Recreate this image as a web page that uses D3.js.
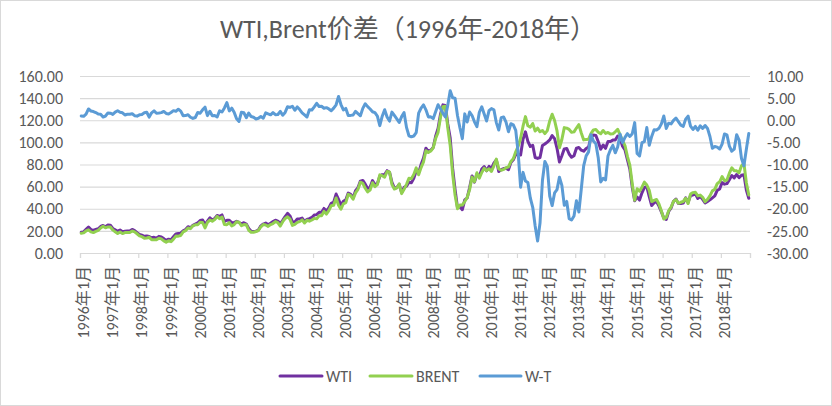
<!DOCTYPE html>
<html><head><meta charset="utf-8">
<script src="https://cdn.jsdelivr.net/npm/d3@7"></script>
<style>body{margin:0;background:#fff}svg{display:block}</style>
</head><body>
<svg id="chart" width="832" height="406"></svg>
<script>
const titleText = "WTI,Brent价差（1996年-2018年）";
const yearLabels = ["1996年1月","1997年1月","1998年1月","1999年1月","2000年1月","2001年1月","2002年1月","2003年1月","2004年1月","2005年1月","2006年1月","2007年1月","2008年1月","2009年1月","2010年1月","2011年1月","2012年1月","2013年1月","2014年1月","2015年1月","2016年1月","2017年1月","2018年1月"];
const seriesNames = ["WTI","BRENT","W-T"];
const leftTicks = [0,20,40,60,80,100,120,140,160];
const rightTicks = [-30,-25,-20,-15,-10,-5,0,5,10];

const wti = [
18.86,19.09,21.33,23.50,21.17,20.42,21.30,21.90,23.97,24.88,23.71,25.23,
25.13,22.18,20.97,19.70,20.82,19.26,19.66,19.95,19.80,21.33,20.19,18.33,
16.72,16.06,15.12,15.35,14.91,13.72,14.17,13.47,15.03,14.46,13.00,11.35,
12.52,12.01,14.68,17.31,17.72,17.92,20.10,21.28,23.80,22.69,25.00,26.10,
27.26,29.37,29.84,25.72,28.79,31.82,29.70,31.26,33.88,33.11,34.42,28.44,
29.59,29.61,27.24,27.49,28.63,27.60,26.43,27.37,26.20,22.17,19.64,19.39,
19.72,20.72,24.53,26.18,27.04,25.52,26.97,28.39,29.66,28.84,26.35,29.46,
32.95,35.83,33.51,28.17,28.11,30.66,30.76,31.57,28.31,30.34,31.11,32.13,
34.31,34.69,36.74,36.75,40.28,38.03,40.78,44.90,45.94,53.28,48.47,43.15,
46.84,48.15,54.19,52.98,49.83,56.35,59.00,64.99,65.59,62.26,58.32,59.41,
65.49,61.63,62.69,69.44,70.84,70.95,74.41,73.04,63.80,58.89,59.08,61.96,
54.51,59.28,60.44,63.98,63.46,67.49,74.12,72.36,79.92,85.80,94.77,91.69,
92.95,95.35,105.56,112.57,125.39,133.93,133.44,116.61,103.90,76.65,57.44,41.02,
41.74,39.15,47.98,49.79,59.16,69.68,64.09,71.06,69.46,75.82,78.08,74.30,
78.33,76.39,81.20,84.29,73.74,75.34,76.32,76.60,75.24,81.89,84.25,89.15,
89.17,88.58,102.86,109.53,100.90,96.26,97.30,86.33,85.52,86.32,97.16,98.56,
100.27,102.20,106.16,103.32,94.66,82.30,87.90,94.13,94.51,89.49,86.53,87.86,
94.76,95.31,92.94,92.02,94.51,95.77,104.67,106.57,106.29,100.54,93.86,97.63,
94.62,100.82,100.80,102.07,102.18,105.79,103.59,96.54,93.21,84.40,75.79,59.29,
47.22,50.58,47.82,54.45,59.27,59.82,50.90,42.87,45.48,46.22,42.44,37.19,
31.68,30.32,37.55,40.75,46.71,48.76,44.65,44.72,45.18,49.78,45.66,51.97,
52.50,53.47,49.33,51.06,48.48,45.18,46.63,48.04,49.82,51.58,56.64,57.88,
63.70,62.23,62.73,66.25,69.98,67.87,70.98,68.06,70.23,70.75,56.96,49.52];

const brent = [
17.88,18.19,19.93,20.95,19.08,18.45,19.57,20.51,22.63,24.16,22.75,23.57,
23.54,20.85,19.13,17.56,19.02,17.58,18.46,18.60,18.46,19.87,19.16,17.40,
15.50,14.75,13.44,13.55,14.19,12.05,12.05,11.90,13.40,12.74,11.00,9.82,
11.11,10.27,12.51,15.29,15.23,15.86,19.08,20.22,22.54,22.01,24.58,25.48,
25.51,27.78,27.49,22.76,27.74,29.80,28.68,30.20,33.14,30.96,32.55,25.66,
25.62,27.50,24.50,25.66,28.31,27.85,24.61,25.68,25.62,20.54,18.80,18.71,
19.42,20.28,23.70,25.73,25.35,24.08,25.74,26.65,28.40,27.54,24.34,28.33,
31.18,32.77,30.61,25.00,25.86,27.65,28.35,29.89,27.11,29.61,28.75,29.81,
31.28,30.86,33.63,33.59,37.57,35.18,38.22,42.74,43.20,49.78,43.11,39.60,
44.51,45.48,53.10,51.88,48.65,54.35,57.52,63.98,62.91,58.54,55.24,56.86,
63.57,59.92,61.75,70.66,69.92,68.56,73.67,73.23,61.96,57.81,58.76,62.47,
53.68,57.56,62.05,67.49,67.21,71.05,76.93,70.76,77.17,82.34,92.41,90.93,
92.18,94.99,103.64,109.07,122.80,132.32,132.72,113.24,97.23,71.58,52.45,39.95,
43.44,43.32,46.54,50.18,57.30,68.61,64.44,72.51,67.65,72.77,76.66,74.46,
76.17,73.75,78.83,84.82,75.95,74.76,75.58,77.04,77.84,82.67,85.28,91.45,
96.52,103.72,114.64,123.26,114.99,113.83,116.97,110.22,112.83,109.55,110.77,107.87,
110.69,119.33,125.45,119.75,110.34,95.16,102.62,113.36,112.86,111.71,109.06,109.49,
112.96,116.05,108.47,102.25,102.56,102.92,107.93,111.28,111.60,109.08,107.79,110.76,
108.12,108.90,107.48,107.76,109.54,111.80,106.77,101.61,97.09,87.43,79.44,62.34,
47.76,58.10,55.89,59.52,64.08,61.48,56.56,46.52,47.62,48.43,44.27,38.01,
30.70,32.18,38.21,41.58,46.74,48.25,44.95,45.84,46.57,49.52,44.73,53.31,
54.58,54.87,51.59,52.31,50.33,46.37,48.48,51.70,56.15,57.51,62.71,64.37,
69.08,65.32,66.02,72.11,76.98,74.41,74.25,72.53,78.89,81.03,63.50,52.50];

const wMinusT = [
0.98,0.90,1.40,2.55,2.09,1.97,1.73,1.39,1.34,0.72,0.96,1.66,
1.59,1.33,1.84,2.14,1.80,1.68,1.20,1.35,1.34,1.46,1.03,0.93,
1.22,1.31,1.68,1.80,0.72,1.67,2.12,1.57,1.63,1.72,2.00,1.53,
1.41,1.74,2.17,2.02,2.49,2.06,1.02,1.06,1.26,0.68,0.42,0.62,
1.75,1.59,2.35,2.96,1.05,2.02,1.02,1.06,0.74,2.15,1.87,2.78,
3.97,2.11,2.74,1.83,0.32,-0.25,1.82,1.69,0.58,1.63,0.84,0.68,
0.30,0.44,0.83,0.45,1.69,1.44,1.23,1.74,1.26,1.30,2.01,1.13,
1.77,3.06,2.90,3.17,2.25,3.01,2.41,1.68,1.20,0.73,2.36,2.32,
3.03,3.83,3.11,3.16,2.71,2.85,2.56,2.16,2.74,3.50,5.36,3.55,
2.33,2.67,1.09,1.10,1.18,2.00,1.48,1.01,2.68,3.72,3.08,2.55,
1.92,1.71,0.94,-1.22,0.92,2.39,0.74,-0.19,1.84,1.08,0.32,-0.51,
0.83,1.72,-1.61,-3.51,-3.75,-3.56,-2.81,1.60,2.75,3.46,2.36,0.76,
0.77,0.36,1.92,3.50,2.59,1.61,0.72,3.37,6.67,5.07,4.99,1.07,
-1.70,-4.17,1.44,-0.39,1.86,1.07,-0.35,-1.45,1.81,3.05,1.42,-0.16,
2.16,2.64,2.37,-0.53,-2.21,0.58,0.74,-0.44,-2.60,-0.78,-1.03,-2.30,
-7.35,-15.14,-11.78,-13.73,-14.09,-17.57,-19.67,-23.89,-27.31,-23.23,-13.61,-9.31,
-10.42,-17.13,-19.29,-16.43,-15.68,-12.86,-14.72,-19.23,-18.35,-22.22,-22.53,-21.63,
-18.20,-20.74,-15.53,-10.23,-8.05,-7.15,-3.26,-4.71,-5.31,-8.54,-13.93,-13.13,
-13.50,-8.08,-6.68,-5.69,-7.36,-6.01,-3.18,-5.07,-3.88,-3.03,-3.65,-3.05,
-0.54,-7.52,-8.07,-5.07,-4.81,-1.66,-5.66,-3.65,-2.14,-2.21,-1.83,-0.82,
0.98,-1.86,-0.66,-0.83,-0.03,0.51,-0.30,-1.12,-1.39,0.26,0.93,-1.34,
-2.08,-1.40,-2.26,-1.25,-1.85,-1.19,-1.85,-3.66,-6.33,-5.93,-6.07,-6.49,
-5.38,-3.09,-3.29,-5.86,-7.00,-6.54,-3.27,-4.47,-8.66,-10.28,-6.54,-2.98];

const colors = {WTI:"#7030A0", BRENT:"#92D050", "W-T":"#5B9BD5"};
const FONT = "Carlito, Lato, 'Noto Sans CJK SC', sans-serif";

const svg = d3.select("#chart");
const W = 832, H = 406;
const plot = {left:80, right:750, top:76, bottom:253};

svg.append("rect").attr("x",0.5).attr("y",0.5).attr("width",W-1).attr("height",H-1)
  .attr("fill","#fff").attr("stroke","#d9d9d9");

const n = wti.length;
const x = d3.scaleLinear().domain([0, n]).range([plot.left, plot.right]);
const yL = d3.scaleLinear().domain([0,160]).range([plot.bottom, plot.top]);
const yR = d3.scaleLinear().domain([-30,10]).range([plot.bottom, plot.top]);

// gridlines + left axis
const gL = svg.append("g").attr("transform",`translate(${plot.left},0)`)
  .call(d3.axisLeft(yL).tickValues(leftTicks).tickSize(-(plot.right-plot.left)).tickPadding(17)
    .tickFormat(v => v.toFixed(2)));
gL.select(".domain").remove();
gL.selectAll(".tick line").attr("stroke","#d9d9d9").attr("stroke-width",1.2);
gL.selectAll(".tick text").attr("font-family",FONT).attr("font-size",16).attr("fill","#595959");

// right axis
const gR = svg.append("g").attr("transform",`translate(${plot.right},0)`)
  .call(d3.axisRight(yR).tickValues(rightTicks).tickSize(0).tickPadding(17)
    .tickFormat(v => v.toFixed(2)));
gR.select(".domain").remove();
gR.selectAll(".tick text").attr("font-family",FONT).attr("font-size",16).attr("fill","#595959");

// bottom axis
const tickVals = d3.range(0, n + 1, 12);
const gX = svg.append("g").attr("transform",`translate(0,${plot.bottom})`)
  .call(d3.axisBottom(x).tickValues(tickVals).tickSize(5)
    .tickFormat((d,i) => yearLabels[i] || ""));
gX.select(".domain").attr("stroke","#d9d9d9").attr("stroke-width",1.2);
gX.selectAll(".tick line").attr("stroke","#d9d9d9").attr("stroke-width",1.2);
gX.selectAll(".tick text")
  .attr("font-family",FONT).attr("font-size",16).attr("fill","#595959")
  .attr("transform","rotate(-90)")
  .attr("text-anchor","end")
  .attr("x",-13).attr("y",3).attr("dy","0.35em");

// lines
const seriesData = [
  {name:"WTI", values:wti, y:yL},
  {name:"BRENT", values:brent, y:yL},
  {name:"W-T", values:wMinusT, y:yR}
];
seriesData.forEach(s => {
  const line = d3.line().x((d,i) => x(i + 0.5)).y(d => s.y(d));
  svg.append("path").datum(s.values)
    .attr("d", line).attr("fill","none")
    .attr("stroke", colors[s.name]).attr("stroke-width",3)
    .attr("stroke-linejoin","round").attr("stroke-linecap","round");
});

// title
svg.append("text").attr("x",408).attr("y",38).attr("text-anchor","middle")
  .attr("font-family",FONT).attr("font-size",26).attr("fill","#595959")
  .text(titleText);

// legend
const legendPos = [{lx:280, tx:326},{lx:370, tx:416},{lx:480, tx:525}];
const ly = 376;
seriesNames.forEach((name,i) => {
  const p = legendPos[i];
  svg.append("line").attr("x1",p.lx).attr("x2",p.tx-4).attr("y1",ly).attr("y2",ly)
    .attr("stroke",colors[name]).attr("stroke-width",3).attr("stroke-linecap","round");
  svg.append("text").attr("x",p.tx).attr("y",ly).attr("dy","0.35em")
    .attr("font-family",FONT).attr("font-size",16).attr("fill","#595959").text(name);
});
</script>
</body></html>
